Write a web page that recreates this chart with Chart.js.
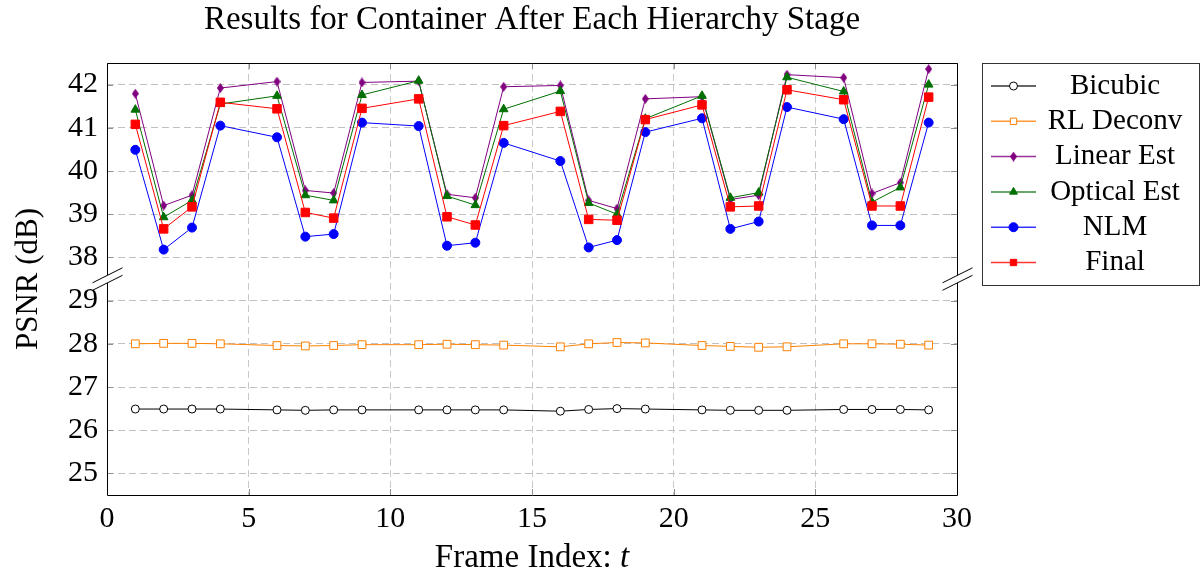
<!DOCTYPE html>
<html>
<head>
<meta charset="utf-8">
<script src="https://cdn.jsdelivr.net/npm/chart.js@4/dist/chart.umd.min.js"></script>
<style>
  html, body { margin: 0; padding: 0; background: #fff; }
</style>
</head>
<body>
<canvas id="psnrChart" width="1202" height="576"></canvas>
<script>
// frame indices (5, 10, 15, 20, 25 are missing in the original)
const frames = [1, 2, 3, 4, 6, 7, 8, 9, 11, 12, 13, 14, 16, 17, 18, 19, 21, 22, 23, 24, 26, 27, 28, 29];

const bicubic   = [26.49, 26.49, 26.49, 26.49, 26.47, 26.46, 26.47, 26.47, 26.47, 26.47, 26.47, 26.47,
                   26.44, 26.48, 26.50, 26.49, 26.47, 26.46, 26.46, 26.46, 26.48, 26.48, 26.48, 26.47];
const rlDeconv  = [28.00, 28.01, 28.01, 28.00, 27.96, 27.95, 27.96, 27.98, 27.98, 27.99, 27.98, 27.97,
                   27.93, 28.00, 28.03, 28.02, 27.96, 27.94, 27.92, 27.93, 28.00, 28.00, 27.99, 27.97];
const linearEst = [41.79, 39.20, 39.44, 41.92, 42.07, 39.55, 39.49, 42.05, 42.08, 39.46, 39.38, 41.95,
                   41.98, 39.32, 39.13, 41.67, 41.72, 39.34, 39.44, 42.23, 42.16, 39.48, 39.73, 42.36];
const opticalEst = [41.42, 38.93, 39.32, 41.55, 41.74, 39.44, 39.32, 41.76, 42.09, 39.42, 39.21, 41.43,
                   41.85, 39.26, 39.00, 41.21, 41.74, 39.38, 39.50, 42.17, 41.84, 39.28, 39.62, 42.00];
const nlm       = [40.49, 38.18, 38.69, 41.05, 40.78, 38.48, 38.54, 41.12, 41.04, 38.27, 38.34, 40.65,
                   40.23, 38.23, 38.40, 40.90, 41.22, 38.66, 38.83, 41.48, 41.20, 38.74, 38.74, 41.12];
const finalRes  = [41.08, 38.66, 39.17, 41.59, 41.44, 39.04, 38.91, 41.45, 41.67, 38.94, 38.75, 41.05,
                   41.38, 38.88, 38.86, 41.19, 41.53, 39.17, 39.19, 41.88, 41.65, 39.19, 39.19, 41.71];

const yTickLabels = [25, 26, 27, 28, 29, 38, 39, 40, 41, 42];
const xTickLabels = [0, 5, 10, 15, 20, 25, 30];

// broken y axis: everything above the break is shifted down by GAP
const GAP = 8;
const toAxis = v => (v > 33.5 ? v - GAP : v);
const toLabel = v => (v >= 29.5 ? v + GAP : v);

const serif = '"Liberation Serif", "DejaVu Serif", serif';

// narrow diamond like pgfplots' diamond*
const diamond = document.createElement('canvas');
diamond.width = 7; diamond.height = 10;
(function () {
  const c = diamond.getContext('2d');
  c.fillStyle = '#800080';
  c.beginPath();
  c.moveTo(3.5, 0); c.lineTo(7, 5); c.lineTo(3.5, 10); c.lineTo(0, 5); c.closePath();
  c.fill();
})();

function series(label, values, color, style, radius, fill, order) {
  return {
    label: label,
    data: frames.map((f, i) => ({ x: f, y: toAxis(values[i]) })),
    borderColor: color,
    borderWidth: 1,
    pointStyle: style,
    pointRadius: radius,
    pointBorderColor: color,
    pointBackgroundColor: fill,
    pointBorderWidth: 1,
    tension: 0,
    order: order
  };
}

const datasets = [
  series('Bicubic', bicubic, '#000000', 'circle', 4, '#ffffff', 5),
  series('RL Deconv', rlDeconv, '#ff8000', 'rect', 5.5, '#ffffff', 4),
  series('Linear Est', linearEst, '#800080', diamond, 5, '#800080', 3),
  series('Optical Est', opticalEst, '#007000', 'triangle', 5, '#007000', 2),
  series('NLM', nlm, '#0000ff', 'circle', 4.5, '#0000ff', 1),
  series('Final', finalRes, '#ff0000', 'rect', 6, '#ff0000', 0)
];

function drawMarker(ctx, ds, x, y) {
  if (ds.pointStyle instanceof HTMLCanvasElement) {
    ctx.drawImage(ds.pointStyle, x - ds.pointStyle.width / 2, y - ds.pointStyle.height / 2);
    return;
  }
  ctx.fillStyle = ds.pointBackgroundColor;
  ctx.strokeStyle = ds.pointBorderColor;
  ctx.lineWidth = 1;
  Chart.helpers.drawPoint(ctx, { pointStyle: ds.pointStyle, radius: ds.pointRadius, borderWidth: 1, rotation: 0 }, x, y);
}

const decorations = {
  id: 'decorations',
  afterDraw(chart) {
    const ctx = chart.ctx;
    const a = chart.chartArea;
    const ys = chart.scales.y;
    const xs = chart.scales.x;
    ctx.save();

    // small inward ticks
    ctx.strokeStyle = '#909090';
    ctx.lineWidth = 1;
    ctx.beginPath();
    ys.ticks.forEach(t => {
      const py = Math.round(ys.getPixelForValue(t.value)) + 0.5;
      ctx.moveTo(a.left, py); ctx.lineTo(a.left + 6, py);
      ctx.moveTo(a.right, py); ctx.lineTo(a.right - 6, py);
    });
    xs.ticks.forEach(t => {
      const px = Math.round(xs.getPixelForValue(t.value)) + 0.5;
      ctx.moveTo(px, a.bottom); ctx.lineTo(px, a.bottom - 6);
      ctx.moveTo(px, a.top); ctx.lineTo(px, a.top + 6);
    });
    ctx.stroke();

    // frame with break marks
    const breakY = ys.getPixelForValue(29.5);
    const L = Math.round(a.left) + 0.5, R = Math.round(a.right) + 0.5;
    const T = Math.round(a.top) + 0.5, B = Math.round(a.bottom) + 0.5;
    ctx.strokeStyle = '#000';
    ctx.beginPath();
    ctx.moveTo(L, breakY - 4); ctx.lineTo(L, T); ctx.lineTo(R, T); ctx.lineTo(R, breakY - 4);
    ctx.moveTo(L, breakY + 4); ctx.lineTo(L, B); ctx.lineTo(R, B); ctx.lineTo(R, breakY + 4);
    ctx.stroke();
    [L, R].forEach(x0 => {
      ctx.fillStyle = '#fff';
      ctx.beginPath();
      ctx.moveTo(x0 - 15, breakY + 3.8); ctx.lineTo(x0 + 15, breakY - 11.2);
      ctx.lineTo(x0 + 15, breakY - 3.7); ctx.lineTo(x0 - 15, breakY + 11.3);
      ctx.closePath();
      ctx.fill();
      ctx.beginPath();
      ctx.moveTo(x0 - 15, breakY + 3.8); ctx.lineTo(x0 + 15, breakY - 11.2);
      ctx.moveTo(x0 - 15, breakY + 11.3); ctx.lineTo(x0 + 15, breakY - 3.7);
      ctx.stroke();
    });

    // x axis title with italic t
    ctx.fillStyle = '#000';
    ctx.textBaseline = 'middle';
    ctx.textAlign = 'left';
    const normalFont = '33px ' + serif, italicFont = 'italic 33px ' + serif;
    ctx.font = normalFont;
    const w1 = ctx.measureText('Frame Index: ').width;
    ctx.font = italicFont;
    const w2 = ctx.measureText('t').width;
    let tx = (a.left + a.right) / 2 - (w1 + w2) / 2;
    ctx.font = normalFont;
    ctx.fillText('Frame Index: ', tx, 558);
    ctx.font = italicFont;
    ctx.fillText('t', tx + w1, 558);

    // legend box
    const bx = 982.5, by = 63.5, bw = 217, bh = 222;
    ctx.strokeStyle = '#333';
    ctx.strokeRect(bx, by, bw, bh);
    ctx.font = '29px ' + serif;
    ctx.textAlign = 'center';
    chart.data.datasets.forEach((ds, i) => {
      const ry = 86 + i * 35.3;
      ctx.strokeStyle = ds.borderColor;
      ctx.lineWidth = 1.5;
      ctx.globalAlpha = 0.8;
      ctx.beginPath();
      ctx.moveTo(991, ry); ctx.lineTo(1036, ry);
      ctx.stroke();
      ctx.globalAlpha = 1;
      drawMarker(ctx, { pointStyle: ds.pointStyle, pointRadius: Math.min(ds.pointRadius, 4.5),
        pointBackgroundColor: ds.pointBackgroundColor, pointBorderColor: ds.pointBorderColor }, 1013.5, ry);
      ctx.fillStyle = '#000';
      ctx.fillText(ds.label, 1115, ry);
    });
    ctx.restore();
  }
};

new Chart(document.getElementById('psnrChart'), {
  type: 'line',
  data: { datasets: datasets },
  options: {
    responsive: false,
    animation: false,
    events: [],
    layout: { padding: { left: 0, right: 245, top: 0, bottom: 0 } },
    plugins: {
      legend: { display: false },
      tooltip: { enabled: false },
      title: {
        display: true,
        fullSize: false,
        text: 'Results for Container After Each Hierarchy Stage',
        color: '#000',
        font: { family: serif, size: 33, weight: 'normal', lineHeight: 1.2 },
        padding: { top: 1, bottom: 22.4 }
      }
    },
    scales: {
      x: {
        type: 'linear',
        min: 0,
        max: 30,
        afterBuildTicks: s => { s.ticks = xTickLabels.map(v => ({ value: v })); },
        afterFit: s => { s.height = 81; },
        ticks: { color: '#000', font: { family: serif, size: 30 }, padding: 6, maxRotation: 0 },
        grid: { color: '#c8c8c8', drawTicks: false },
        border: { display: false, dash: [7, 4] }
      },
      y: {
        type: 'linear',
        min: 24.5,
        max: 34.5,
        afterBuildTicks: s => { s.ticks = yTickLabels.map(v => ({ value: toAxis(v) })); },
        afterFit: s => { s.width = 107; },
        ticks: { color: '#000', font: { family: serif, size: 30 }, padding: 9, callback: v => String(toLabel(v)) },
        grid: { color: '#c0c0c0', drawTicks: false },
        border: { display: false, dash: [7, 4] },
        title: { display: true, text: 'PSNR (dB)', color: '#000', font: { family: serif, size: 31 }, padding: { top: 10, bottom: 0 } }
      }
    }
  },
  plugins: [decorations]
});
</script>
</body>
</html>
